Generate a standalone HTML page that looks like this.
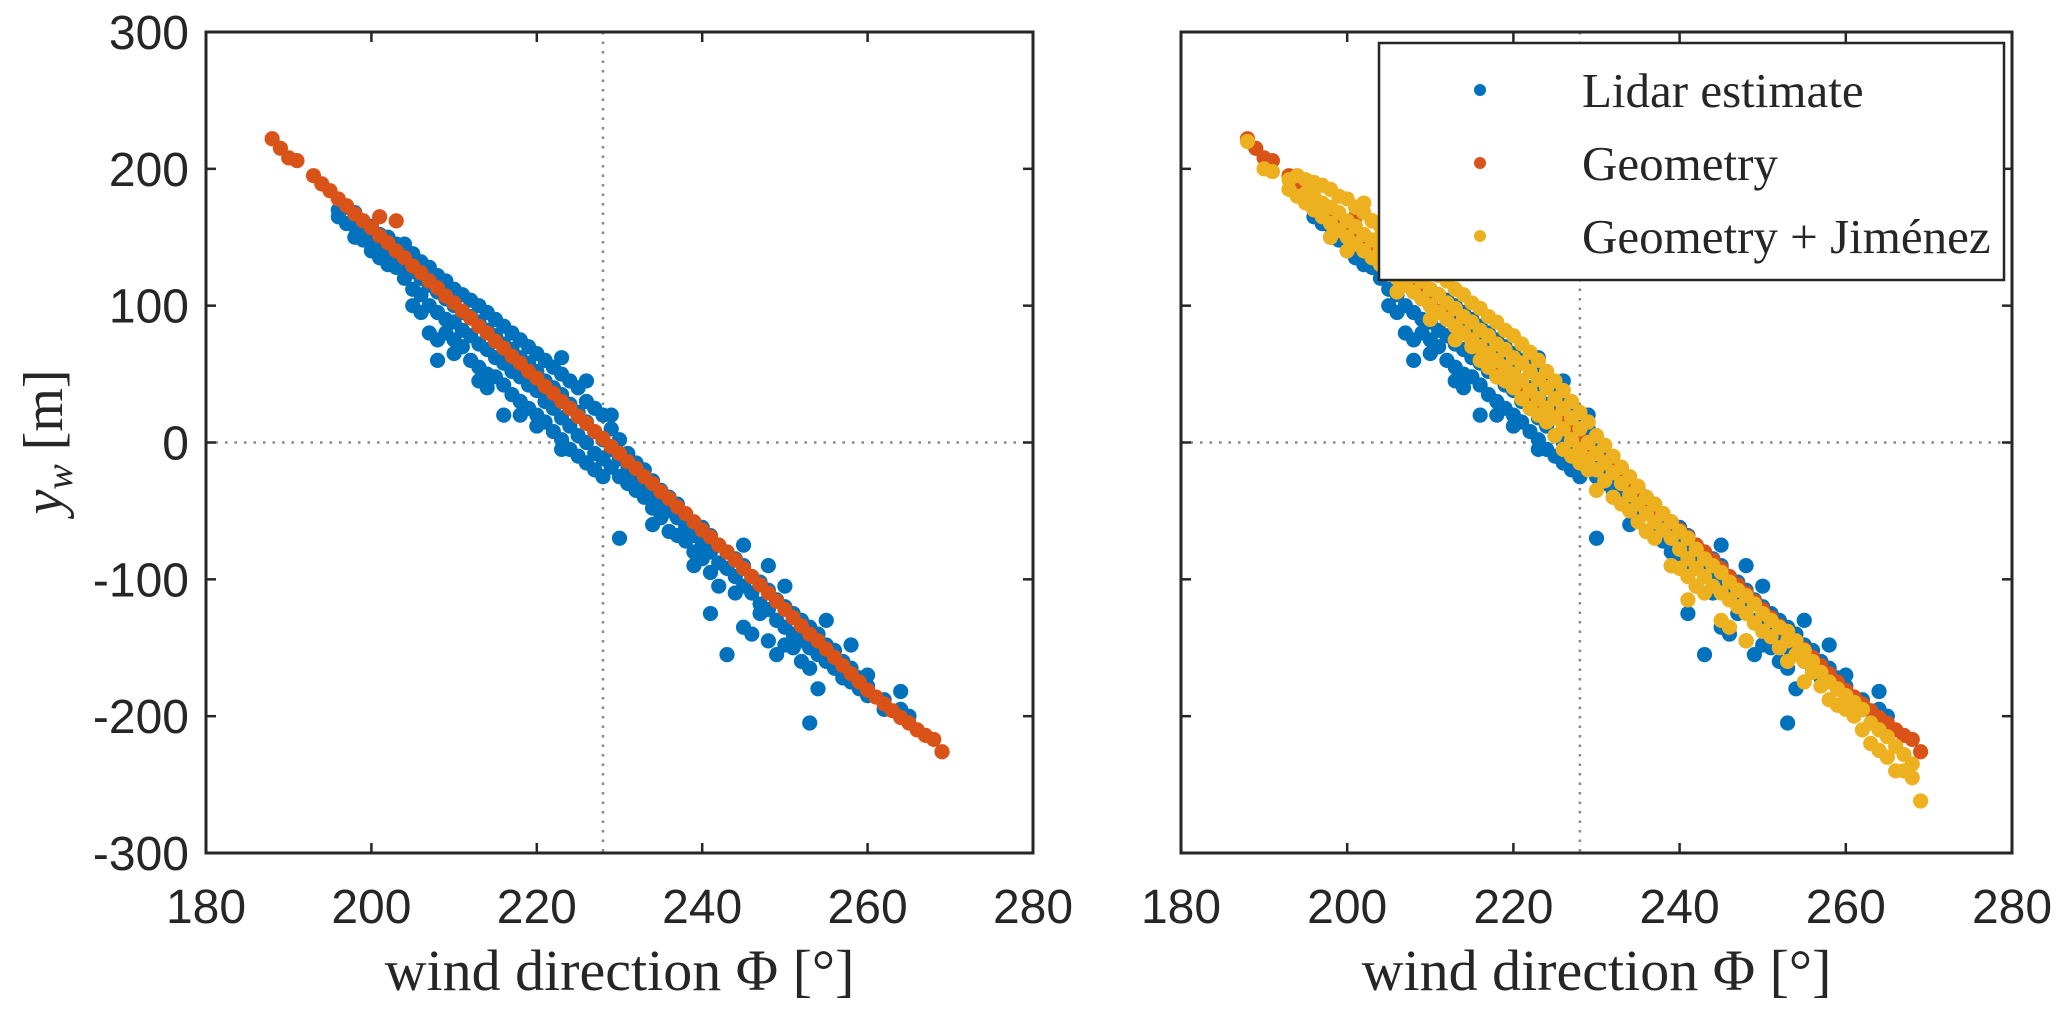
<!DOCTYPE html>
<html><head><meta charset="utf-8">
<style>
html,body{margin:0;padding:0;background:#fff;}
svg{display:block;}
text{fill:#262626;}
.tick{font-family:"Liberation Sans",sans-serif;font-size:48px;}
.ser{font-family:"Liberation Serif",serif;}
</style></head>
<body>
<svg id="chart" width="2067" height="1015" viewBox="0 0 2067 1015" xmlns="http://www.w3.org/2000/svg"></svg>
<script>
const xTicks = [180, 200, 220, 240, 260, 280];
const yTicks = [300, 200, 100, 0, -100, -200, -300];
const refX = 228;
const refY = 0;
const geometryRows = [[188,222],[189,215],[190,208],[191,206],[193,195],[194,189],[195,184],[196,178],[197,173],[198,167],[199,162],[200,157],[201,151],[201,165],[202,146],[203,140],[203,162],[204,135],[205,129],[206,124],[207,118],[208,113],[209,107],[210,102],[211,96],[212,91],[213,85],[214,80],[215,74],[216,69],[217,63],[218,58],[219,52],[220,47],[221,41],[222,36],[223,30],[224,25],[225,19],[226,14],[227,8],[228,3],[229,-3],[230,-8],[231,-14],[232,-19],[233,-25],[234,-30],[235,-36],[236,-41],[237,-47],[238,-52],[239,-58],[240,-64],[241,-69],[242,-75],[243,-80],[244,-86],[245,-92],[246,-98],[247,-104],[248,-110],[249,-116],[250,-122],[251,-128],[252,-134],[253,-140],[254,-145],[255,-151],[256,-157],[257,-163],[258,-169],[259,-175],[260,-181],[261,-186],[262,-191],[263,-196],[264,-201],[265,-205],[266,-210],[267,-214],[268,-217],[269,-226]];
const lidarRows = [[196,[170,165]],[197,[172,160]],[198,[168,158,150]],[199,[162,152,148]],[200,[158,150,140]],[201,[152,145,135]],[202,[150,140,130]],[203,[145,135,128]],[204,[140,128,120,145]],[205,[138,125,112,100]],[206,[132,120,108,95]],[207,[128,115,100,80]],[208,[122,110,95,75,60]],[209,[118,105,90,80]],[210,[112,100,88,75,65]],[211,[108,95,82,70]],[212,[104,92,78,60]],[213,[100,88,72,55,45]],[214,[95,82,68,50,40]],[215,[90,78,62,48]],[216,[85,72,58,42,20]],[217,[80,68,52,35]],[218,[75,62,48,30,20]],[219,[70,58,42,25]],[220,[65,52,38,20,12]],[221,[60,45,30,15]],[222,[55,40,25,8]],[223,[62,50,35,18,2,-5]],[224,[45,28,12,-5]],[225,[40,22,5,-10]],[226,[45,30,15,0,-15]],[227,[25,8,-8,-20]],[228,[20,2,-12,-25]],[229,[20,10,-5,-18]],[230,[2,-12,-25,-70]],[231,[-8,-20,-30]],[232,[-15,-25,-35]],[233,[-20,-30,-40]],[234,[-28,-38,-48,-60]],[235,[-35,-45,-55]],[236,[-40,-50,-65]],[237,[-45,-55,-68]],[238,[-55,-62,-72]],[239,[-58,-68,-80,-90]],[240,[-62,-75,-85]],[241,[-68,-80,-95,-125]],[242,[-75,-88,-105]],[243,[-80,-92,-155]],[244,[-85,-98,-110]],[245,[-90,-105,-75,-135]],[246,[-98,-110,-140]],[247,[-102,-118,-125]],[248,[-108,-122,-90,-145]],[249,[-115,-130,-155]],[250,[-120,-135,-105,-148]],[251,[-125,-140,-150]],[252,[-130,-145,-160]],[253,[-135,-150,-165,-205]],[254,[-140,-155,-180]],[255,[-148,-160,-130]],[256,[-152,-165]],[257,[-160,-172]],[258,[-165,-175,-148]],[259,[-172,-180]],[260,[-178,-185,-170]],[262,[-188,-195]],[264,[-195,-182]],[265,[-200]]];
const jimenezRows = [[188,[220]],[190,[200]],[191,[198]],[193,[192,185]],[194,[195,180]],[195,[192,182,175]],[196,[190,180,170]],[197,[188,175,165]],[198,[185,172,160,150]],[199,[180,168,155]],[200,[178,162,150,140]],[201,[172,158,145]],[202,[168,152,140,175]],[203,[162,148,135]],[204,[158,142,130,150]],[205,[152,138,125]],[206,[148,132,120,110]],[207,[142,128,115]],[208,[138,122,110,140]],[209,[132,118,105]],[210,[128,112,100,90]],[211,[122,108,95]],[212,[118,102,90,130]],[213,[112,98,85,75]],[214,[108,92,80]],[215,[102,88,75,70]],[216,[98,82,70,60]],[217,[92,78,65,55]],[218,[88,72,60,48]],[219,[82,68,55,45]],[220,[78,62,50,40]],[221,[72,58,45,32]],[222,[66,52,38,25]],[223,[60,46,32,20]],[224,[52,40,25,15]],[225,[45,32,18,5]],[226,[38,25,10,-5]],[227,[30,18,2,-10]],[228,[22,10,-5,-15]],[229,[15,0,-12,-20]],[230,[5,-8,-20,-35]],[231,[-2,-15,-28]],[232,[-10,-22,-40]],[233,[-18,-30,-45]],[234,[-25,-38,-50]],[235,[-32,-45,-58]],[236,[-40,-52,-65]],[237,[-45,-58,-70]],[238,[-52,-64]],[239,[-58,-70,-90]],[240,[-65,-78,-92]],[241,[-70,-85,-98,-115]],[242,[-78,-92,-105]],[243,[-85,-98,-110]],[244,[-90,-105]],[245,[-95,-110,-130]],[246,[-102,-115,-135]],[247,[-108,-120]],[248,[-112,-125,-145]],[249,[-118,-132]],[250,[-125,-138]],[251,[-130,-142]],[252,[-135,-150]],[253,[-138,-145,-160]],[254,[-145,-155]],[255,[-152,-160,-175]],[256,[-160,-168]],[257,[-168,-178]],[258,[-175,-188]],[259,[-180,-192]],[260,[-185,-195]],[261,[-190,-200]],[262,[-195,-210]],[263,[-205,-220]],[264,[-210,-225]],[265,[-215,-230]],[266,[-222,-240]],[267,[-228,-240]],[268,[-235,-245]],[269,[-262]]];

const NS = 'http://www.w3.org/2000/svg';
const svg = document.getElementById('chart');
const COL = {lidar:'#0072BD', geo:'#D95319', jim:'#EDB120'};
const R_DOT = 7.6;
function mk(tag, attrs, parent){
  const e = document.createElementNS(NS, tag);
  for (const k in attrs) e.setAttribute(k, attrs[k]);
  (parent||svg).appendChild(e);
  return e;
}
function panel(name, L, R, T, B, showY, withJim){
  const g = mk('g', {});
  
  
  const sx = v => L + (v - 180) / 100 * (R - L);
  const sy = v => T + (300 - v) / 600 * (B - T);
  const vl = mk('line', {x1:sx(refX), x2:sx(refX), y1:T, y2:B, stroke:'#888', 'stroke-width':2.5, 'stroke-dasharray':'2.5 7'}, g);
  
  
  const hl = mk('line', {x1:L, x2:R, y1:sy(refY), y2:sy(refY), stroke:'#888', 'stroke-width':2.5, 'stroke-dasharray':'2.5 7'}, g);
  
  
  const gl = mk('g', {fill:COL.lidar}, g);
  
  
  lidarRows.forEach(r => r[1].forEach(v => {
    const c = mk('circle', {cx:sx(r[0]), cy:sy(v), r:R_DOT}, gl);
    
    
  }));
  const gg = mk('g', {fill:COL.geo}, g);
  
  
  geometryRows.forEach(r => {
    const c = mk('circle', {cx:sx(r[0]), cy:sy(r[1]), r:R_DOT}, gg);
    
    
  });
  if (withJim){
    const gj = mk('g', {fill:COL.jim}, g);
    
    
    jimenezRows.forEach(r => r[1].forEach(v => {
      const c = mk('circle', {cx:sx(r[0]), cy:sy(v), r:R_DOT}, gj);
      
      
    }));
  }
  const box = mk('rect', {x:L, y:T, width:R-L, height:B-T, fill:'none', stroke:'#262626', 'stroke-width':3}, g);
  
  
  xTicks.forEach(t => {
    const x = sx(t);
    mk('line', {x1:x, x2:x, y1:B, y2:B-10, stroke:'#262626', 'stroke-width':2.5}, g);
    mk('line', {x1:x, x2:x, y1:T, y2:T+10, stroke:'#262626', 'stroke-width':2.5}, g);
    const tx = mk('text', {x:x, y:B+70, 'text-anchor':'middle', class:'tick'}, g);
    tx.textContent = t;
    
    
  });
  yTicks.forEach(t => {
    const y = sy(t);
    mk('line', {x1:L, x2:L+10, y1:y, y2:y, stroke:'#262626', 'stroke-width':2.5}, g);
    mk('line', {x1:R, x2:R-10, y1:y, y2:y, stroke:'#262626', 'stroke-width':2.5}, g);
    if (showY){
      const ty = mk('text', {x:L-17, y:y+17, 'text-anchor':'end', class:'tick'}, g);
      ty.textContent = t;
      
      
    }
  });
  const xl = mk('text', {x:(L+R)/2, y:990, 'text-anchor':'middle', class:'ser', 'font-size':58}, g);
  xl.textContent = 'wind direction Φ [°]';
  
  
}
panel('left-panel', 206, 1033, 32, 853, true, false);
panel('right-panel', 1181, 2012, 32, 853, false, true);

const yt = mk('text', {transform:'translate(62,442) rotate(-90)', 'text-anchor':'middle', class:'ser', 'font-size':56});


const ys1 = mk('tspan', {'font-style':'italic'}, yt); ys1.textContent = 'y';
const ys2 = mk('tspan', {'font-style':'italic', 'font-size':38, dy:10}, yt); ys2.textContent = 'w';
const ys3 = mk('tspan', {dy:-10}, yt); ys3.textContent = ' [m]';

const lg = mk('g', {});


mk('rect', {x:1379, y:43, width:625, height:237, fill:'#fff', stroke:'#262626', 'stroke-width':2.5}, lg);
const legendLabels = ['Lidar estimate', 'Geometry', 'Geometry + Jiménez'];
const legendColors = [COL.lidar, COL.geo, COL.jim];
legendLabels.forEach((lab, i) => {
  const y = 90 + i * 73;
  const d = mk('circle', {cx:1480, cy:y, r:6}, lg);
  d.setAttribute('fill', legendColors[i]);
  
  
  const t = mk('text', {x:1582, y:y+17, class:'ser', 'font-size':49}, lg);
  t.textContent = lab;
  
  
});
</script>
</body></html>
